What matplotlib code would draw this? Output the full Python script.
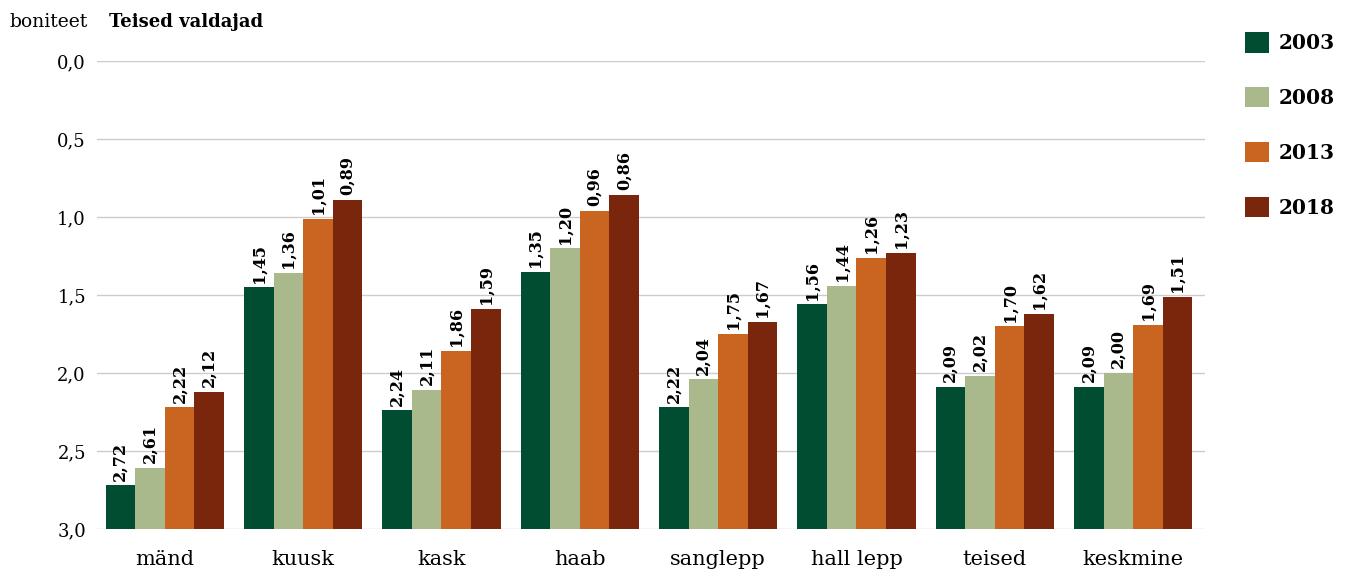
import numpy as np
import matplotlib.pyplot as plt
from matplotlib.patches import Patch

categories = ['mänd', 'kuusk', 'kask', 'haab', 'sanglepp', 'hall lepp', 'teised', 'keskmine']
years = ['2003', '2008', '2013', '2018']
v2003 = [2.72, 1.45, 2.24, 1.35, 2.22, 1.56, 2.09, 2.09]
v2008 = [2.61, 1.36, 2.11, 1.20, 2.04, 1.44, 2.02, 2.00]
v2013 = [2.22, 1.01, 1.86, 0.96, 1.75, 1.26, 1.70, 1.69]
v2018 = [2.12, 0.89, 1.59, 0.86, 1.67, 1.23, 1.62, 1.51]
yticks = [0.0, 0.5, 1.0, 1.5, 2.0, 2.5, 3.0]

colors = ['#004d32', '#a9b98c', '#c96421', '#7a260d']
series = [v2003, v2008, v2013, v2018]

plt.rcParams['font.family'] = ['DejaVu Serif']

fig = plt.figure(figsize=(13.51, 5.74), dpi=100)
ax = fig.add_axes([0.0718, 0.0784, 0.8202, 0.8153])

x = np.arange(len(categories))
w = 0.214
for i, (vals, c) in enumerate(zip(series, colors)):
    pos = x + (i - 1.5) * w
    vals = np.array(vals)
    ax.bar(pos, vals - 3.0, bottom=3.0, width=w, color=c, linewidth=0, zorder=3)
    for p, v in zip(pos, vals):
        ax.text(p, v - 0.03, f'{v:.2f}'.replace('.', ','), rotation=90,
                ha='center', va='bottom', fontsize=11.5, fontweight='bold', zorder=4)

ax.set_ylim(3.0, 0.0)
ax.set_xlim(-0.49, 7.52)
ax.set_yticks(yticks)
ax.set_yticklabels([f'{t:.1f}'.replace('.', ',') for t in yticks], fontsize=13)
ax.set_xticks(x)
ax.set_xticklabels(categories, fontsize=15)
ax.tick_params(axis='both', length=0)
ax.tick_params(axis='y', pad=8)
ax.tick_params(axis='x', pad=15)
ax.grid(axis='y', color='#cccccc', linewidth=1, zorder=0)
for s in ax.spines.values():
    s.set_visible(False)

fig.text(0.007, 0.961, 'boniteet', fontsize=13.5, va='center', ha='left')
fig.text(0.081, 0.961, 'Teised valdajad', fontsize=13, fontweight='bold', va='center', ha='left')

handles = [Patch(color=c, linewidth=0) for c in colors]
fig.legend(handles, years, loc='upper left', bbox_to_anchor=(0.914, 0.962),
           frameon=False, borderpad=0, handlelength=1.2, handleheight=1.2, labelspacing=1.68,
           handletextpad=0.5, prop={'weight': 'bold', 'size': 14.5})

fig.savefig('out.png', dpi=100)
